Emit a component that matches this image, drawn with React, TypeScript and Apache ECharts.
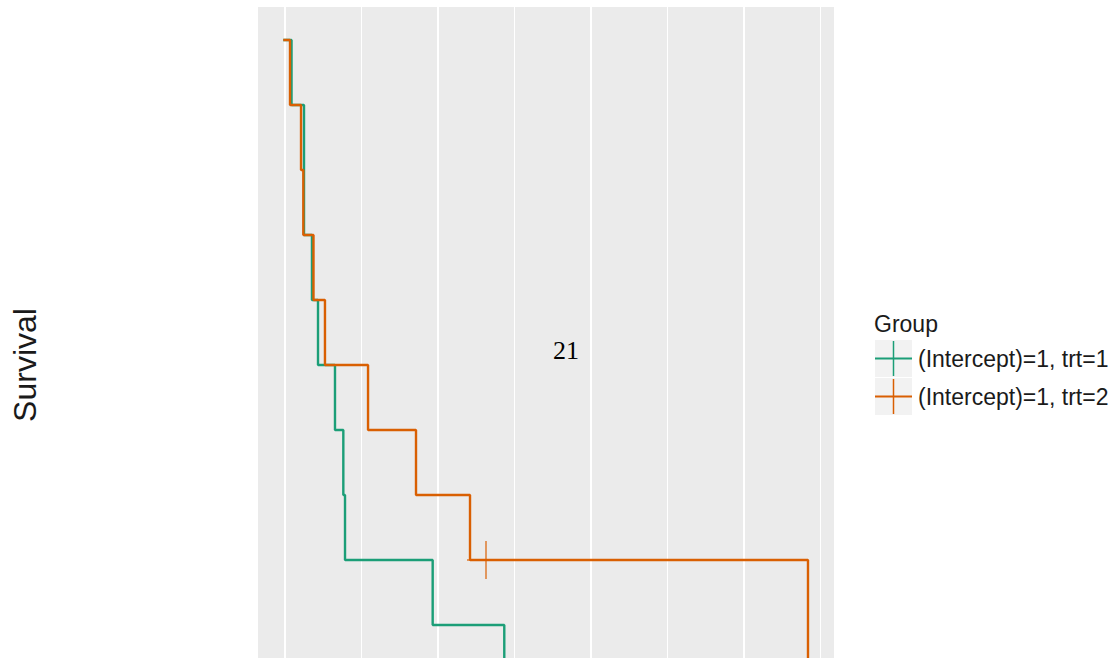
import React, { useEffect, useRef } from "react";
import * as echarts from "echarts";

// ---- data ----
const groupNames = ["(Intercept)=1, trt=1", "(Intercept)=1, trt=2"];
const groupColors = ["#1B9E77", "#D95F02"];

const trt1Time = [0, 9.2, 25.5, 35.9, 43.8, 66.0, 76.9, 79.1, 193.7, 287.3];
const trt1Surv = [1, 0.9, 0.7, 0.6, 0.5, 0.4, 0.3, 0.2, 0.1, 0];

const trt2Time = [0, 7.2, 21.6, 24.6, 37.9, 52.9, 109.2, 171.9, 242.5, 684.3];
const trt2Surv = [1, 0.9, 0.8, 0.7, 0.6, 0.5, 0.4, 0.3, 0.2, 0];

const trt2CensorTime = [263.4];
const trt2CensorSurv = [0.2];

const majorBreaks = [0, 200, 400, 600];
const minorBreaks = [100, 300, 500, 700];

// visible part of the panel (the panel continues below the window)
const xRange = [-34.64, 718.3];
const yRange = [0.0492, 1.0508];

const yTitle = "Survival";
const legendTitle = "Group";
const annotationText = "21";

const plusPath =
  "path://M18.25,0h1.5v18.25h18.25v1.5h-18.25v18.25h-1.5v-18.25h-18.25v-1.5h18.25z";

export default function App() {
  const ref = useRef<HTMLDivElement>(null);

  useEffect(() => {
    if (!ref.current) return;
    const chart = echarts.init(ref.current, undefined, { renderer: "svg" });

    const pairs = (xs: number[], ys: number[]) => xs.map((x, i) => [x, ys[i]]);

    const legendGraphics: any[] = [];
    const keyTop = [340, 378];
    groupNames.forEach((name, i) => {
      const top = keyTop[i];
      const cy = top + 18.5;
      legendGraphics.push(
        {
          type: "rect",
          shape: { x: 875, y: top, width: 37, height: 37 },
          style: { fill: "#F2F2F2" },
        },
        {
          type: "line",
          shape: { x1: 875, y1: cy, x2: 912, y2: cy },
          style: { stroke: groupColors[i], lineWidth: 2.2 },
        },
        {
          type: "line",
          shape: { x1: 893.5, y1: top + 1, x2: 893.5, y2: top + 36 },
          style: { stroke: groupColors[i], lineWidth: 1.5 },
        },
        {
          type: "text",
          x: 918,
          y: cy,
          style: {
            text: name,
            fill: "#1A1A1A",
            font: "23px 'Liberation Sans', Arial, sans-serif",
            align: "left",
            verticalAlign: "middle",
          },
        }
      );
    });

    const option: any = {
      animation: false,
      backgroundColor: "#FFFFFF",
      grid: {
        left: 258,
        top: 7,
        width: 576,
        bottom: 0,
        show: true,
        backgroundColor: "#EBEBEB",
        borderWidth: 0,
        containLabel: false,
      },
      xAxis: {
        type: "value",
        min: xRange[0],
        max: xRange[1],
        axisLine: { show: false },
        axisTick: { show: false },
        axisLabel: { show: false },
        splitLine: { show: false },
      },
      yAxis: {
        type: "value",
        min: yRange[0],
        max: yRange[1],
        axisLine: { show: false },
        axisTick: { show: false },
        axisLabel: { show: false },
        splitLine: { show: false },
      },
      series: [
        {
          name: groupNames[0],
          type: "line",
          step: "end",
          showSymbol: false,
          clip: true,
          data: pairs(trt1Time, trt1Surv),
          lineStyle: { color: groupColors[0], width: 2.4, cap: "square" },
          itemStyle: { color: groupColors[0] },
          z: 3,
          markLine: {
            silent: true,
            z: 1,
            symbol: ["none", "none"],
            label: { show: false },
            animation: false,
            data: [
              ...majorBreaks.map((v) => ({
                xAxis: v,
                lineStyle: { color: "#FFFFFF", width: 2, type: "solid" },
              })),
              ...minorBreaks.map((v) => ({
                xAxis: v,
                lineStyle: { color: "#FFFFFF", width: 1, type: "solid" },
              })),
            ],
          },
        },
        {
          name: groupNames[1],
          type: "line",
          step: "end",
          showSymbol: false,
          clip: true,
          data: pairs(trt2Time, trt2Surv),
          lineStyle: { color: groupColors[1], width: 2.4, cap: "square" },
          itemStyle: { color: groupColors[1] },
          z: 4,
        },
        {
          name: groupNames[1] + " censored",
          type: "scatter",
          data: pairs(trt2CensorTime, trt2CensorSurv),
          symbol: plusPath,
          symbolSize: 38,
          itemStyle: { color: groupColors[1] },
          z: 5,
        },
      ],
      graphic: [
        {
          type: "text",
          x: 25,
          y: 365,
          rotation: Math.PI / 2,
          style: {
            text: yTitle,
            fill: "#1A1A1A",
            font: "32px 'Liberation Sans', Arial, sans-serif",
            align: "center",
            verticalAlign: "middle",
          },
        },
        {
          type: "text",
          x: 874,
          y: 324,
          style: {
            text: legendTitle,
            fill: "#1A1A1A",
            font: "23px 'Liberation Sans', Arial, sans-serif",
            align: "left",
            verticalAlign: "middle",
          },
        },
        ...legendGraphics,
        {
          type: "text",
          x: 566,
          y: 350,
          z: 10,
          style: {
            text: annotationText,
            fill: "#000000",
            font: "26px 'Liberation Serif', 'Times New Roman', serif",
            align: "center",
            verticalAlign: "middle",
          },
        },
      ],
    };

    chart.setOption(option);
    return () => chart.dispose();
  }, []);

  return (
    <div
      ref={ref}
      style={{ position: "fixed", left: 0, top: 0, width: 1118, height: 658 }}
    />
  );
}
